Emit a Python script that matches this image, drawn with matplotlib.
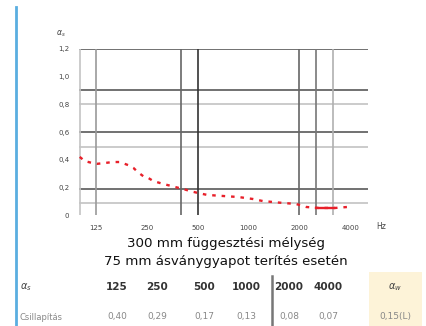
import matplotlib.pyplot as plt
from matplotlib.patches import Rectangle
from matplotlib.lines import Line2D

# frequency curve (Hz, alpha_s)
freq = [100, 107, 115, 127, 141, 157, 173, 194, 208, 221, 238, 253, 272, 299,
        330, 368, 410, 450, 502, 569, 869, 1056, 1212, 1595, 1903, 2191, 2590,
        3262, 3850]
alpha = [0.42, 0.39, 0.38, 0.37, 0.376, 0.383, 0.383, 0.36, 0.34, 0.31, 0.28,
         0.27, 0.246, 0.231, 0.217, 0.202, 0.188, 0.173, 0.159, 0.145, 0.13,
         0.116, 0.101, 0.087, 0.08, 0.058, 0.051, 0.051, 0.058]
seg_f = [2500, 3200]
seg_a = [0.05, 0.05]

xticks = [125, 250, 500, 1000, 2000, 4000]
xlabels = ['125', '250', '500', '1000', '2000', '4000']
yticks = [0, 0.2, 0.4, 0.6, 0.8, 1.0, 1.2]
ylabels = ['0', '0,2', '0,4', '0,6', '0,8', '1,0', '1,2']

hdark = [1.2, 0.9, 0.6, 0.19]
hlight = [0.8, 0.49, 0.09]
vlines = [(100, '#c4c4c4'), (125, '#9a9a9a'), (400, '#666666'), (500, '#333333'),
          (2000, '#666666'), (2500, '#777777'), (3150, '#b0b0b0')]

caption = ['300 mm függesztési mélység', '75 mm ásványgyapot terítés esetén']
bands = ['125', '250', '500', '1000', '2000', '4000']
values = ['0,40', '0,29', '0,17', '0,13', '0,08', '0,07']
aw = '0,15(L)'

fig = plt.figure(figsize=(4.26, 3.26), dpi=100)
ax = fig.add_axes([79 / 426, 1 - 215 / 326, 289 / 426, 166 / 326])
ax.set_xscale('log')
ax.set_xlim(99, 5090)
ax.set_ylim(0, 1.2)
for s in ax.spines.values():
    s.set_visible(False)

for y in hdark:
    ax.axhline(y, color='#4a4a4a', lw=1.1, zorder=1)
for y in hlight:
    ax.axhline(y, color='#bdbdbd', lw=1.1, zorder=1)
for x, c in vlines:
    ax.axvline(x, color=c, lw=1.2, zorder=1)

ax.plot(freq, alpha, color='#e8202a', lw=1.7, dashes=(1.5, 2.5), zorder=3)
ax.plot(seg_f, seg_a, color='#e8202a', lw=1.7, zorder=3)

ax.set_xticks(xticks)
ax.set_xticklabels(xlabels)
ax.minorticks_off()
ax.set_yticks(yticks)
ax.set_yticklabels(ylabels)
ax.tick_params(length=0, labelsize=5, colors='#444444', pad=7)
ax.text(1.03, -0.07, 'Hz', transform=ax.transAxes, fontsize=5.5, color='#444444',
        ha='left', va='center')
ax.text(-0.045, 1.09, r'$\alpha_s$', transform=ax.transAxes, fontsize=5.5,
        color='#444444', ha='right', va='center')

# left blue rule
fig.add_artist(Line2D([16 / 426, 16 / 426], [0, 1 - 7 / 326], color='#5aaee0', lw=2))

fig.text(226 / 426, 1 - 244 / 326, caption[0], ha='center', va='center',
         fontsize=9.6, color='#111111')
fig.text(226 / 426, 1 - 262 / 326, caption[1], ha='center', va='center',
         fontsize=9.6, color='#111111')

# table below
fig.add_artist(Rectangle((369 / 426, 0), 53 / 426, 54 / 326, color='#fdf3d8', lw=0))
fig.add_artist(Line2D([272 / 426, 272 / 426], [0, 1 - 276 / 326], color='#777777', lw=1.8))
r1 = 1 - 287 / 326
r2 = 1 - 317 / 326
fig.text(20 / 426, r1, r'$\alpha_s$', fontsize=7, color='#444444', va='center')
fig.text(20 / 426, r2, 'Csillapítás', fontsize=6, color='#888888', va='center')
xs = [117, 157, 204, 246, 289, 328]
for x, b, v in zip(xs, bands, values):
    fig.text(x / 426, r1, b, fontsize=7.5, fontweight='bold', color='#333333',
             ha='center', va='center')
    fig.text(x / 426, r2, v, fontsize=6.5, color='#888888', ha='center', va='center')
fig.text(395 / 426, r1, r'$\alpha_w$', fontsize=7, color='#444444', ha='center', va='center')
fig.text(395 / 426, r2, aw, fontsize=6.5, color='#888888', ha='center', va='center')

fig.savefig('out.png', dpi=100)
